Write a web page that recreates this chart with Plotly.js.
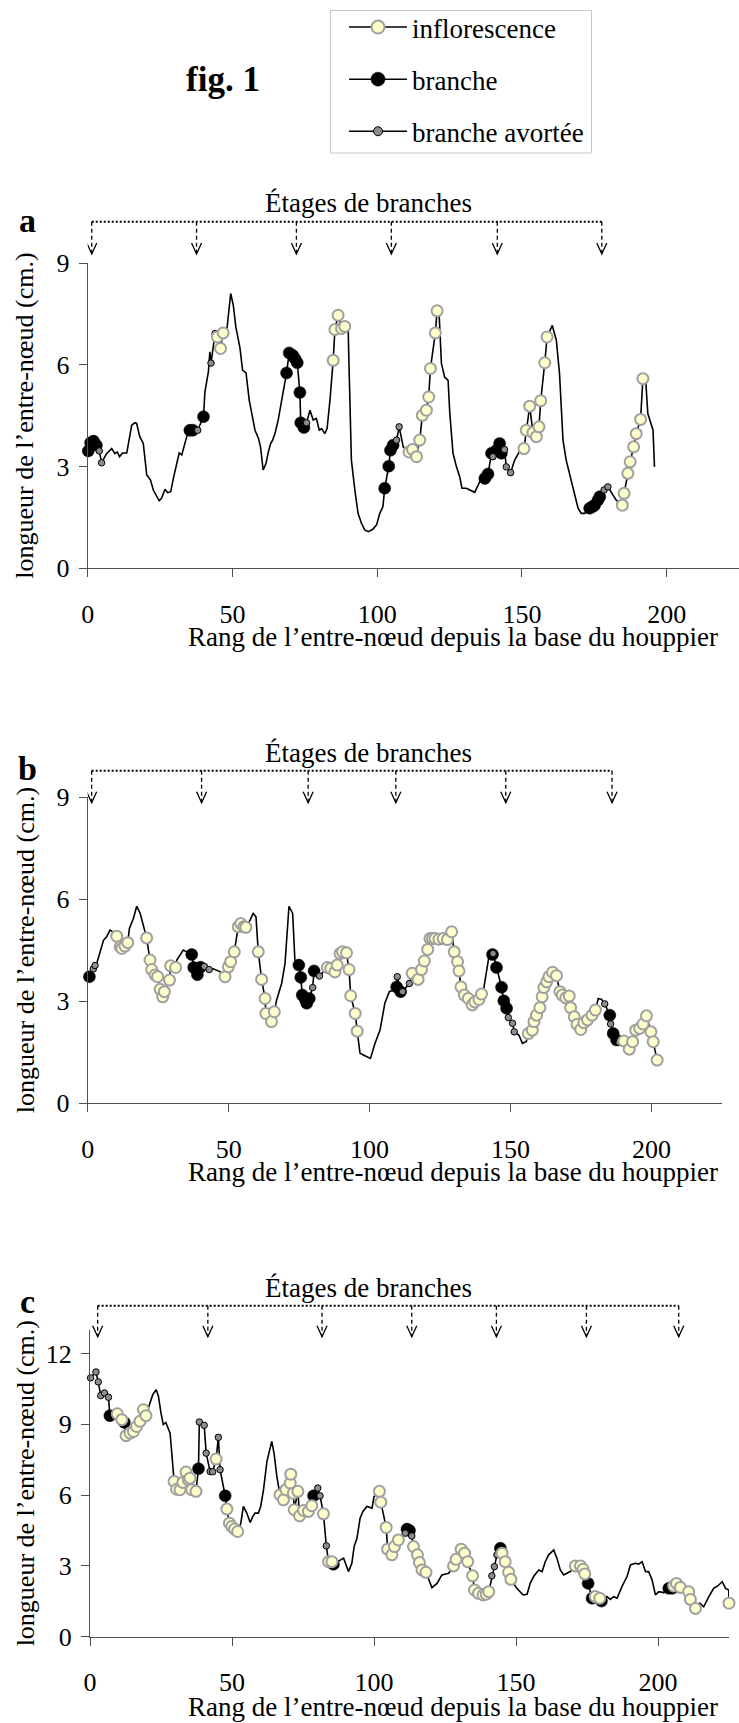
<!DOCTYPE html>
<html><head><meta charset="utf-8">
<script src="https://cdn.plot.ly/plotly-3.0.1.min.js"></script>
<style>html,body{margin:0;padding:0;background:#fff}</style>
</head><body>
<div id="chart" style="width:739px;height:1723px"></div>
<script>
// ---------------- DATA ----------------
// Panel a : line vertices (without marked nodes)
const aLineX = [6.5,8.3,9.4,10.2,11,12,13.5,14,15.2,16.3,16.9,18,19.2,20.4,21.7,22.7,23.8,24.7,25.5,26.7,27.6,28.7,29.6,30.7,31.6,32.5,33.6,34.5, 40.5,41.7,42.2, 48,49.4,50.3,51.2,52.6,53.5,54.7,55.8,56.6,57.8,59,59.7,60.6,61.6,62.4,63.2,63.9,64.7,65.8,66.4,67.5,68.1, 76.8,77.9,79,80,80.8,81.9,82.7,83.7, 90,90.2,91.1,92.3,93.4,94.6,95.7,96.9,98.5,99.8,100.9,102, 109, 121.4,122.2,123.3,124.5,125.1,126.2,127.4,128.5,129.3,130.8,132,133.7,134.9,136, 147.5,149.2, 160.5,161.9,163,164.2,165.3,166.5,168.2,169.4,170.5,171.7, 182.6, 192.8,193.5,195.3,195.8];
const aLineY = [3.38,3.53,3.38,3.43,3.29,3.4,3.4,3.68,4.22,4.29,4.27,3.88,3.68,2.75,2.6,2.3,2.11,1.99,2.06,2.33,2.23,2.26,2.65,3.04,3.4,3.34,3.68,3.97, 5.2,5.8,6.38, 6.97,8.1,7.75,7.1,6.5,5.84,5.76,4.96,4.56,4.07,3.83,3.58,2.9,3.09,3.43,3.68,3.78,3.97,4.37,4.66,5.15,5.5, 4.66,4.37,4.42,4.07,4.12,3.97,4.12,4.96, 7.02,6.23,3.19,2.3,1.62,1.32,1.13,1.08,1.15,1.28,1.62,1.82, 3.58, 7.5,6.04,5.64,5.54,4.56,3.39,2.99,2.7,2.36,2.36,2.31,2.24,2.45,2.65, 3.19,3.45, 7.16,6.72,5.74,3.78,3.19,2.75,2.21,1.77,1.62,1.62, 2.01, 5.5,4.56,4.07,2.99];
const aInflX = [44.8,45.9,46.8, 84.8,85.4,86.5,87.7,88.8, 111,112.2,113.6,114.7,115.6,117,117.8,118.4,120.1,120.7, 150.7,151.5,152.7,153.8,155,155.9,156.5,157.9,158.7, 184.7,185.3,186.6,187.4,188.6,189.5,191,191.8];
const aInflY = [6.82,6.48,6.94, 6.13,7.04,7.46,7.07,7.13, 3.43,3.5,3.29,3.78,4.51,4.66,5.05,5.89,6.94,7.59, 3.53,4.07,4.78,4.0,3.88,4.17,4.94,6.06,6.82, 1.86,2.21,2.8,3.14,3.58,3.97,4.39,5.59];
const aBrX = [0.2,1,2,3, 35.3,36.3,40, 68.7,69.6,70.8,71.6,72.4,73.3,73.6,74.7, 102.6,104,104.6,105.5, 137.2,138.3,139.5,141.2,142.3,142.9, 173.4,174.5,175.1,176.3,176.9];
const aBrY = [3.46,3.7,3.75,3.63, 4.07,4.07,4.47, 5.76,6.35,6.28,6.18,6.06,5.18,4.29,4.15, 2.36,3.01,3.48,3.63, 2.65,2.78,3.39,3.48,3.68,3.39, 1.77,1.82,1.86,2.01,2.11];
const aAvX = [4,4.8, 38, 42.6,44, 75.6, 106.7,107.6, 140,144,144.6,146.1, 178.4,179.7];
const aAvY = [3.46,3.11, 4.07, 6.05,6.92, 4.29, 3.78,4.17, 3.29,3.5,2.99,2.82, 2.31,2.4];
const stagesA = [1.4, 37.6, 72.1, 104.9, 141.5, 177.6];

// Panel b
const bLineX = [3.2,5.6,6.7,7.9,8.9, 14.8,16.2,17.4,18.6,19.7, 31.6,33.9,35.1, 44.5,46.9, 57.6,58.7,59.7, 67,68.8,70,71.4,72.7,73.5, 96.6,97.8,98.9,100.3,101.9,103.7,105.4,107,108.4, 140.5,142.4, 153,154.2,155.6, 181.1,182.3];
const bLineY = [4.11,4.79,4.89,5.09,5.04, 5.14,5.43,5.79,5.58,5.19, 4.21,4.5,4.45, 3.95,3.87, 5.38,5.58,5.48, 3.03,3.52,4.11,5.79,5.58,4.21, 1.47,1.42,1.37,1.32,1.76,2.15,2.94,3.28,3.33, 3.38,4.35, 2.0,1.76,1.82, 3.08,3.05];
const bInflX = [10.3,11.5,12.1,13.2,14.2, 20.9,22.1,22.7,23.9,24.8,25.7,26.6,27.2,29,29.4,31.2, 48.7,49.9,50.7,52,53.4,54.3,55.4,56.1, 60.5,61.7,62.9,63.2,65.2,66.2, 85,86.2,87.7,88.5,89.5,90.4,91.8,92.7,93.3,94.9,95.6, 115.1,117.2,118.4,119.4,120.6,121.4,122.3,123.2,124.6,126.1,127.6,129.1,130,131.2,131.7,132.4,133.6,135,136.4,137.3,138.8,139.7, 156.3,157.7,158.3,159.2,160.4,161.2,161.8,162.8,163.6,164.9,166.3,167.5,168.3,169.6,170.8,171.3,172.6,173.6,174.9,176,177.3,178.9,180.1, 190.2,192.1,193.3,194.4,195.8,197,198.2,199.8,200.6,202];
const bInflY = [4.91,4.6,4.55,4.62,4.72, 4.86,4.21,3.93,3.77,3.72,3.35,3.13,3.28,3.62,4.04,3.99, 3.72,4.01,4.16,4.45,5.19,5.28,5.19,5.17, 4.45,3.64,3.08,2.64,2.4,2.69, 3.99,3.96,3.86,4.06,4.4,4.45,4.42,3.93,3.16,2.64,2.12, 3.82,3.64,3.93,4.18,4.52,4.84,4.84,4.84,4.82,4.84,4.81,5.04,4.45,4.16,3.89,3.42,3.18,3.08,2.89,2.98,3.05,3.21, 2.05,2.15,2.4,2.59,2.81,3.13,3.4,3.57,3.72,3.85,3.75,3.28,3.18,3.1,3.15,2.81,2.54,2.32,2.17,2.37,2.45,2.59,2.74, 1.83,1.59,1.81,2.15,2.2,2.33,2.57,2.1,1.81,1.27];
const bBrX = [0.6, 36.9,37.6,38.9,40, 74.9,75.6,76.1,77.2,77.7,78.6,80.3, 109.6,111, 143.6,145,146.8,147.6,148.6, 185.2,186.4,187.6];
const bBrY = [3.72, 4.37,3.99,3.78,4.0, 4.06,3.7,3.18,3.05,2.94,3.08,3.89, 3.42,3.28, 4.37,3.99,3.41,3.01,2.79, 2.59,2.05,1.86];
const bAvX = [2,2.6, 41.4,43.1, 79.8,82.2, 109.8,111.7,114.1, 143.8,149.2,150.7,151.3, 183.4,185.5,188.5];
const bAvY = [3.95,4.05, 4.02,3.93, 3.4,3.74, 3.72,3.28,3.52, 4.4,2.52,2.35,2.1, 2.92,2.33,1.79];
const stagesB = [1.4, 40.4, 78.2, 109.3, 148.3, 186];

// Panel c
const cLineX = [21.1,22.1,23.3,24.1,25,25.8,26.7,27.6,28.2,28.8,29.4, 53.1,54,55.2,56.4,57.3,58.1,59.3,60.1,61.1,62.3,64,64.8,65.8,66.4, 88.1,89.3,91,92.2,93,94,95.1,96.1,97.5,99.3,100, 120.4,122.2,123.9,126.3, 150.3,152.5,153.9,155,156.2,158,159.2,160.3,161.5,163.3,164.4,165.6,166.8,167.9,169.1, 182,183.2,184.4,185.6,187.3,189.1,190.3,192,193.2,194.4,195.6,196.7,197.9,199.1,200.3,202,203.2, 214.7,216.1,217.9,219.6,221,222.6,223.8,224.9];
const cLineY = [9.9,10.26,10.47,10.19,9.48,8.99,9.08,8.77,8.63,7.78,6.79, 4.81,5.52,5.24,4.84,5.09,5.24,5.24,5.52,6.23,7.43,8.28,7.78,6.79,6.23, 3.25,3.33,2.76,3.11,3.82,4.17,5.02,5.31,5.52,5.45,5.94, 2.08,2.26,2.62,2.69, 2.05,1.77,1.8,2.26,2.55,2.83,2.76,3.18,3.47,3.68,3.33,2.83,2.62,2.69,2.76, 1.7,1.58,1.7,1.63,2.12,2.55,3.04,3.11,3.08,3.18,2.76,2.76,2.41,1.77,1.91,1.87,1.98, 1.42,1.27,1.7,2.05,2.15,2.33,2.05,1.98];
const cInflX = [9.6,11.2,12.7,14.1,15.3,16.4,17.6,18.8,19.7, 29.6,30.5,31.7,32.7,33.8,34.6,35.2,35.8,37.3, 44.4, 48.2,49.1,49.9,50.9,52, 66.9,68.1,69,70.5,70.7,71.6,71.9,73.2,73.8,75.2,76.9,78.1, 82.2, 84,85.2, 101.9,102.4,104.3,104.8,106.3,107.2,108.6, 113.9,115.3,116,116.9,118.3, 128,128.9,130.7,131.9,133,134.7,135.4,136.8,138.4,139.5,140.4, 145.1,146.2,147.4,148.2, 170.9,172.7,173.6,174.2, 177.9,179.5, 205.5,206.5,207.9,210.8,211.4,213.2, 225];
const cInflY = [9.45,9.2,8.52,8.63,8.7,8.91,9.13,9.62,9.37, 6.58,6.25,6.23,6.54,6.98,6.65,6.72,6.23,6.16, 7.53, 5.41,4.81,4.67,4.56,4.46, 6.01,5.8,6.23,6.51,6.89,6.08,5.38,6.16,5.12,5.35,5.31,5.55, 5.21, 3.18,3.18, 6.16,5.7,4.63,3.71,3.47,3.82,4.1, 3.82,3.47,3.14,2.83,2.73, 3.0,3.28,3.71,3.54,3.18,2.58,1.98,1.84,1.77,1.8,1.91, 3.54,3.18,2.73,2.43, 3.0,3.0,2.86,2.66, 1.7,1.63, 2.15,2.26,2.09,1.91,1.58,1.2, 1.42];
const cBrX = [7, 12.1, 38.2, 47.6, 78.7, 85.7, 111.6,112.5, 144.5, 175.4,176.8,180.1, 203.8,205];
const cBrY = [9.37, 9.08, 7.12, 5.97, 5.97, 3.07, 4.56,4.5, 3.75, 2.26,1.63,1.51, 2.05,2.05];
const cAvX = [0.2,2.1,2.9,3.8,5.1,6.5, 38.5,40.2,40.9,42.3,43.2,45.2,45.8, 80.2,81, 83.2, 111,113.3, 141.5,142.4,143.3, 206.1];
const cAvY = [10.97,11.22,10.8,10.22,10.33,10.15, 9.1,8.96,7.78,7.0,6.99,8.45,7.08, 6.3,5.97, 3.85, 4.39,4.27, 2.58,2.97,3.47, 2.12];
const stagesC = [2.7, 41.5, 81.7, 113.3, 143.1, 174.8, 207.3];

const xTickVals = [0, 50, 100, 150, 200];
const yTicksAB = [0, 3, 6, 9];
const yTicksC = [0, 3, 6, 9, 12];
const legendNames = ['inflorescence', 'branche', 'branche avortée'];
const panelLetters = ['a', 'b', 'c'];
const stageText = 'Étages de branches';
const xTitle = 'Rang de l\u2019entre-nœud depuis la base du houppier';
const yTitle = 'longueur de l\u2019entre-nœud (cm.)';
const figTitle = 'fig. 1';

// ---------------- LAYOUT HELPERS ----------------
const W = 739, H = 1723;
const FONT = 'Liberation Serif, Times New Roman, serif';
const AXC = '#505050';
const py = p => 1 - p / H;
const px = p => p / W;

const panels = [
  {lx:aLineX, ly:aLineY, ix:aInflX, iy:aInflY, bx:aBrX, by:aBrY, gx:aAvX, gy:aAvY, st:stagesA,
   xL:87.7, xR:739, yT:263, yB:568.3, yMax:9, yTicks:yTicksAB, dotY:221.7, tipY:254, etagY:203, letY:220, xtY:637},
  {lx:bLineX, ly:bLineY, ix:bInflX, iy:bInflY, bx:bBrX, by:bBrY, gx:bAvX, gy:bAvY, st:stagesB,
   xL:87.7, xR:722, yT:797, yB:1103.3, yMax:9, yTicks:yTicksAB, dotY:770.7, tipY:802.7, etagY:753, letY:768, xtY:1171.6},
  {lx:cLineX, ly:cLineY, ix:cInflX, iy:cInflY, bx:cBrX, by:cBrY, gx:cAvX, gy:cAvY, st:stagesC,
   xL:90, xR:729, yT:1330, yB:1636.7, yMax:13, yTicks:yTicksC, dotY:1305.7, tipY:1336.7, etagY:1288, letY:1301, xtY:1707}
];

const inflMarker = {size:11, color:'#FFFFCC', line:{color:'#a0a0a0', width:2}};
const brMarker = {size:12, color:'#000000', line:{color:'#000000', width:0.5}};
const avMarker = {size:6.5, color:'#8c8c8c', line:{color:'#000000', width:1}};

const traces = [];
const shapes = [];
const annotations = [];
const layout = {
  width: W, height: H, margin:{l:0,r:0,t:0,b:0},
  paper_bgcolor:'#fff', plot_bgcolor:'rgba(0,0,0,0)',
  font:{family:FONT, size:26, color:'#000'},
  showlegend:true,
  legend:{x:px(344), y:py(3), xanchor:'left', yanchor:'top', bgcolor:'rgba(0,0,0,0)',
          borderwidth:0, font:{family:FONT, size:27, color:'#000'},
          tracegroupgap:14, itemwidth:58, traceorder:'grouped'},
  shapes, annotations
};

// legend frame
shapes.push({type:'rect', xref:'paper', yref:'paper', x0:px(330.5), x1:px(591.5), y0:py(10.5), y1:py(153),
  line:{color:'#c8c8c8', width:1}, fillcolor:'rgba(0,0,0,0)'});

panels.forEach((p, i) => {
  const n = i === 0 ? '' : String(i + 1);
  const xa = 'x' + n, ya = 'y' + n;
  // merged line through every node (unmarked + marked), ordered by rank
  const pts = [];
  p.lx.forEach((x, k) => pts.push([x, p.ly[k]]));
  p.ix.forEach((x, k) => pts.push([x, p.iy[k]]));
  p.bx.forEach((x, k) => pts.push([x, p.by[k]]));
  p.gx.forEach((x, k) => pts.push([x, p.gy[k]]));
  pts.sort((u, v) => u[0] - v[0]);
  traces.push({type:'scatter', mode:'lines', x:pts.map(q=>q[0]), y:pts.map(q=>q[1]),
    xaxis:xa, yaxis:ya, line:{color:'#000', width:1.6}, showlegend:false, hoverinfo:'skip', cliponaxis:false});
  traces.push({type:'scatter', mode:'markers', x:p.bx, y:p.by, xaxis:xa, yaxis:ya,
    marker:brMarker, showlegend:false, cliponaxis:false, name:legendNames[1]});
  traces.push({type:'scatter', mode:'markers', x:p.gx, y:p.gy, xaxis:xa, yaxis:ya,
    marker:avMarker, showlegend:false, cliponaxis:false, name:legendNames[2]});
  traces.push({type:'scatter', mode:'markers', x:p.ix, y:p.iy, xaxis:xa, yaxis:ya,
    marker:inflMarker, showlegend:false, cliponaxis:false, name:legendNames[0]});

  layout['xaxis' + n] = {domain:[px(p.xL), px(p.xR)], range:[0,225], anchor:ya,
    tickvals:xTickVals, ticks:'outside', ticklen:8, tickwidth:1, tickcolor:AXC,
    showline:true, linecolor:AXC, linewidth:1, showgrid:false, zeroline:false,
    tickfont:{family:FONT, size:26, color:'#000'}, ticklabelstandoff:14, fixedrange:true};
  layout['yaxis' + n] = {domain:[py(p.yB), py(p.yT)], range:[0,p.yMax], anchor:xa,
    tickvals:p.yTicks, ticks:'outside', ticklen:8, tickwidth:1, tickcolor:AXC,
    showline:true, linecolor:AXC, linewidth:1, showgrid:false, zeroline:false,
    tickfont:{family:FONT, size:26, color:'#000'}, ticklabelstandoff:4, fixedrange:true};

  // "Étages de branches" bracket
  shapes.push({type:'line', xref:xa, yref:'paper', x0:p.st[0], x1:p.st[p.st.length-1],
    y0:py(p.dotY), y1:py(p.dotY), line:{color:'#000', width:2, dash:'2px,2px'}});
  p.st.forEach(s => {
    shapes.push({type:'line', xref:xa, yref:'paper', x0:s, x1:s, y0:py(p.dotY), y1:py(p.tipY),
      line:{color:'#000', width:1.3, dash:'4px,3px'}});
    shapes.push({type:'path', xref:xa, yref:'paper', xsizemode:'pixel', ysizemode:'pixel',
      xanchor:s, yanchor:py(p.tipY), path:'M-5,11L0,0L5,11', line:{color:'#000', width:1.3}});
  });
  annotations.push({xref:'paper', yref:'paper', x:px(368.5), y:py(p.etagY), text:stageText,
    showarrow:false, xanchor:'center', yanchor:'middle', font:{family:FONT, size:27, color:'#000'}});
  annotations.push({xref:'paper', yref:'paper', x:px(27), y:py(p.letY), text:'<b>' + panelLetters[i] + '</b>',
    showarrow:false, xanchor:'center', yanchor:'middle', font:{family:FONT, size:34, color:'#000'}});
  annotations.push({xref:'paper', yref:'paper', x:px(453), y:py(p.xtY), text:xTitle,
    showarrow:false, xanchor:'center', yanchor:'middle', font:{family:FONT, size:27, color:'#000'}});
  annotations.push({xref:'paper', yref:'paper', x:px(25), y:py((p.yT + p.yB) / 2), text:yTitle,
    textangle:-90, showarrow:false, xanchor:'center', yanchor:'middle', font:{family:FONT, size:26, color:'#000'}});
});

// legend entries (line + marker sample)
const legMarkers = [
  {size:13, color:'#FFFFCC', line:{color:'#a0a0a0', width:2}},
  {size:14, color:'#000000', line:{color:'#000000', width:0.5}},
  {size:9, color:'#8c8c8c', line:{color:'#000000', width:1}}
];
legendNames.forEach((nm, k) => {
  traces.push({type:'scatter', mode:'lines+markers', x:[null], y:[null], name:nm,
    legendgroup:'g' + k, showlegend:true, line:{color:'#000', width:1.5}, marker:legMarkers[k],
    xaxis:'x', yaxis:'y', hoverinfo:'skip'});
});

annotations.push({xref:'paper', yref:'paper', x:px(222.5), y:py(80), text:'<b>' + figTitle + '</b>',
  showarrow:false, xanchor:'center', yanchor:'middle', font:{family:FONT, size:35, color:'#000'}});

Plotly.newPlot('chart', traces, layout, {staticPlot:true, displayModeBar:false});
</script>
</body></html>
